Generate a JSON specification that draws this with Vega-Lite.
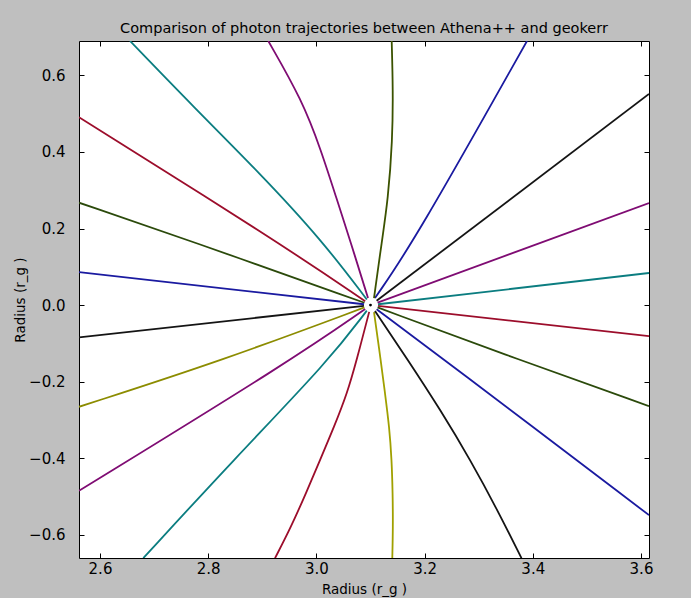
{
  "$schema": "https://vega.github.io/schema/vega-lite/v6.json",
  "width": 570,
  "height": 517,
  "autosize": {"type": "none"},
  "padding": {"left": 79, "top": 41, "right": 42, "bottom": 40},
  "background": "#bfbfbf",
  "config": {
    "font": "DejaVu Sans",
    "view": {"stroke": "#000000", "strokeWidth": 1, "fill": "#ffffff"},
    "axis": {
      "domain": false,
      "grid": false,
      "tickColor": "#000000",
      "tickSize": -5,
      "labelFontSize": 15,
      "labelColor": "#000000",
      "labelFont": "DejaVu Sans",
      "titleFont": "DejaVu Sans",
      "titleFontSize": 13.5,
      "titleFontWeight": "normal",
      "titleColor": "#000000"
    }
  },
  "title": {
    "text": "Comparison of photon trajectories between Athena++ and geokerr",
    "fontSize": 14.5,
    "fontWeight": "normal",
    "font": "DejaVu Sans",
    "color": "#000000",
    "anchor": "middle",
    "offset": 4
  },
  "data": {
    "values": [
      {"ray": 1, "i": 0, "x": 3.1139, "y": -0.0021}, {"ray": 1, "i": 1, "x": 3.6148, "y": -0.081},
      {"ray": 2, "i": 0, "x": 3.1139, "y": 0.0021}, {"ray": 2, "i": 1, "x": 3.6148, "y": 0.0837},
      {"ray": 3, "i": 0, "x": 3.1131, "y": 0.0063}, {"ray": 3, "i": 1, "x": 3.6148, "y": 0.2667},
      {"ray": 4, "i": 0, "x": 3.1113, "y": 0.011}, {"ray": 4, "i": 1, "x": 3.6148, "y": 0.5516},
      {"ray": 5, "i": 0, "x": 3.1083, "y": 0.0183}, {"ray": 5, "i": 1, "x": 3.1823, "y": 0.1699}, {"ray": 5, "i": 2, "x": 3.3893, "y": 0.69},
      {"ray": 6, "i": 0, "x": 3.1065, "y": 0.0183}, {"ray": 6, "i": 1, "x": 3.1213, "y": 0.1699}, {"ray": 6, "i": 2, "x": 3.1323, "y": 0.2745}, {"ray": 6, "i": 3, "x": 3.1407, "y": 0.4314}, {"ray": 6, "i": 4, "x": 3.1416, "y": 0.5621}, {"ray": 6, "i": 5, "x": 3.1392, "y": 0.69},
      {"ray": 7, "i": 0, "x": 3.0954, "y": 0.0183}, {"ray": 7, "i": 1, "x": 3.0621, "y": 0.1699}, {"ray": 7, "i": 2, "x": 3.0381, "y": 0.2745}, {"ray": 7, "i": 3, "x": 3.0085, "y": 0.4052}, {"ray": 7, "i": 4, "x": 2.9734, "y": 0.5359}, {"ray": 7, "i": 5, "x": 2.9111, "y": 0.69},
      {"ray": 8, "i": 0, "x": 3.0932, "y": 0.0146}, {"ray": 8, "i": 1, "x": 3.0098, "y": 0.1699}, {"ray": 8, "i": 2, "x": 2.8957, "y": 0.3443}, {"ray": 8, "i": 3, "x": 2.7725, "y": 0.5184}, {"ray": 8, "i": 4, "x": 2.6555, "y": 0.69},
      {"ray": 9, "i": 0, "x": 3.0902, "y": 0.0102}, {"ray": 9, "i": 1, "x": 2.9235, "y": 0.1699}, {"ray": 9, "i": 2, "x": 2.5612, "y": 0.4907},
      {"ray": 10, "i": 0, "x": 3.0888, "y": 0.006}, {"ray": 10, "i": 1, "x": 2.7632, "y": 0.1699}, {"ray": 10, "i": 2, "x": 2.5612, "y": 0.2675},
      {"ray": 11, "i": 0, "x": 3.088, "y": 0.0021}, {"ray": 11, "i": 1, "x": 2.5612, "y": 0.0863},
      {"ray": 12, "i": 0, "x": 3.088, "y": -0.0021}, {"ray": 12, "i": 1, "x": 2.5612, "y": -0.0844},
      {"ray": 13, "i": 0, "x": 3.0888, "y": -0.0063}, {"ray": 13, "i": 1, "x": 2.8279, "y": -0.1438}, {"ray": 13, "i": 2, "x": 2.5612, "y": -0.2659},
      {"ray": 14, "i": 0, "x": 3.0902, "y": -0.0105}, {"ray": 14, "i": 1, "x": 2.9543, "y": -0.1438}, {"ray": 14, "i": 2, "x": 2.5612, "y": -0.4855},
      {"ray": 15, "i": 0, "x": 3.0932, "y": -0.0146}, {"ray": 15, "i": 1, "x": 3.0238, "y": -0.1438}, {"ray": 15, "i": 2, "x": 2.8464, "y": -0.4052}, {"ray": 15, "i": 3, "x": 2.68, "y": -0.6614},
      {"ray": 16, "i": 0, "x": 3.0976, "y": -0.0178}, {"ray": 16, "i": 1, "x": 3.0745, "y": -0.1438}, {"ray": 16, "i": 2, "x": 3.0571, "y": -0.2301}, {"ray": 16, "i": 3, "x": 3.0325, "y": -0.319}, {"ray": 16, "i": 4, "x": 3.0067, "y": -0.4052}, {"ray": 16, "i": 5, "x": 2.9808, "y": -0.4915}, {"ray": 16, "i": 6, "x": 2.953, "y": -0.5804}, {"ray": 16, "i": 7, "x": 2.9235, "y": -0.6614},
      {"ray": 17, "i": 0, "x": 3.1065, "y": -0.0183}, {"ray": 17, "i": 1, "x": 3.1189, "y": -0.1438}, {"ray": 17, "i": 2, "x": 3.1268, "y": -0.2301}, {"ray": 17, "i": 3, "x": 3.1348, "y": -0.319}, {"ray": 17, "i": 4, "x": 3.1392, "y": -0.4052}, {"ray": 17, "i": 5, "x": 3.141, "y": -0.4915}, {"ray": 17, "i": 6, "x": 3.1416, "y": -0.5804}, {"ray": 17, "i": 7, "x": 3.1403, "y": -0.6614},
      {"ray": 18, "i": 0, "x": 3.1083, "y": -0.0157}, {"ray": 18, "i": 1, "x": 3.1693, "y": -0.1438}, {"ray": 18, "i": 2, "x": 3.2294, "y": -0.2745}, {"ray": 18, "i": 3, "x": 3.2848, "y": -0.4052}, {"ray": 18, "i": 4, "x": 3.3348, "y": -0.5359}, {"ray": 18, "i": 5, "x": 3.3791, "y": -0.6614},
      {"ray": 19, "i": 0, "x": 3.1113, "y": -0.011}, {"ray": 19, "i": 1, "x": 3.2377, "y": -0.1438}, {"ray": 19, "i": 2, "x": 3.6148, "y": -0.549},
      {"ray": 20, "i": 0, "x": 3.1131, "y": -0.0063}, {"ray": 20, "i": 1, "x": 3.3763, "y": -0.1438}, {"ray": 20, "i": 2, "x": 3.6148, "y": -0.2641}
    ]
  },
  "layer": [
    {
      "mark": {"type": "line", "strokeWidth": 1.8, "clip": true, "interpolate": "basis"},
      "encoding": {
        "x": {
          "field": "x", "type": "quantitative",
          "scale": {"domain": [2.5612, 3.6148], "zero": false, "nice": false},
          "axis": {"orient": "bottom", "values": [2.6, 2.8, 3.0, 3.2, 3.4, 3.6], "format": ".1f", "labelFontSize": 15, "labelPadding": 8, "titlePadding": 6, "title": "Radius (r_g )"}
        },
        "y": {
          "field": "y", "type": "quantitative",
          "scale": {"domain": [-0.661, 0.69], "zero": false, "nice": false},
          "axis": {"orient": "left", "values": [-0.6, -0.4, -0.2, 0.0, 0.2, 0.4, 0.6], "format": ".1f", "labelFontSize": 15, "labelPadding": 19, "titlePadding": 1, "title": "Radius (r_g )"}
        },
        "detail": {"field": "ray", "type": "nominal"},
        "order": {"field": "i", "type": "quantitative"},
        "color": {
          "field": "ray", "type": "nominal", "legend": null,
          "scale": {
            "domain": [1, 2, 3, 4, 5, 6, 7, 8, 9, 10, 11, 12, 13, 14, 15, 16, 17, 18, 19, 20],
            "range": ["#9c0d2b", "#0b7d80", "#7f0c73", "#141414", "#1a1aa0", "#3b5200", "#7f0c73", "#0b7d80", "#9c0d2b", "#2b4a0b", "#1a1aa0", "#141414", "#8c8c00", "#7f0c73", "#0b7d80", "#9c0d2b", "#a0a000", "#141414", "#1a1aa0", "#2b4a0b"]
          }
        }
      }
    },
    {
      "data": {"values": [{"x": 3.1, "y": 0.0}]},
      "mark": {"type": "point", "filled": true, "color": "#000000", "size": 8, "opacity": 1},
      "encoding": {
        "x": {"field": "x", "type": "quantitative", "axis": {"orient": "top", "values": [2.6, 2.8, 3.0, 3.2, 3.4, 3.6], "labels": false, "title": null}},
        "y": {"field": "y", "type": "quantitative", "axis": {"orient": "right", "values": [-0.6, -0.4, -0.2, 0.0, 0.2, 0.4, 0.6], "labels": false, "title": null}}
      }
    }
  ],
  "resolve": {"axis": {"x": "independent", "y": "independent"}}
}
